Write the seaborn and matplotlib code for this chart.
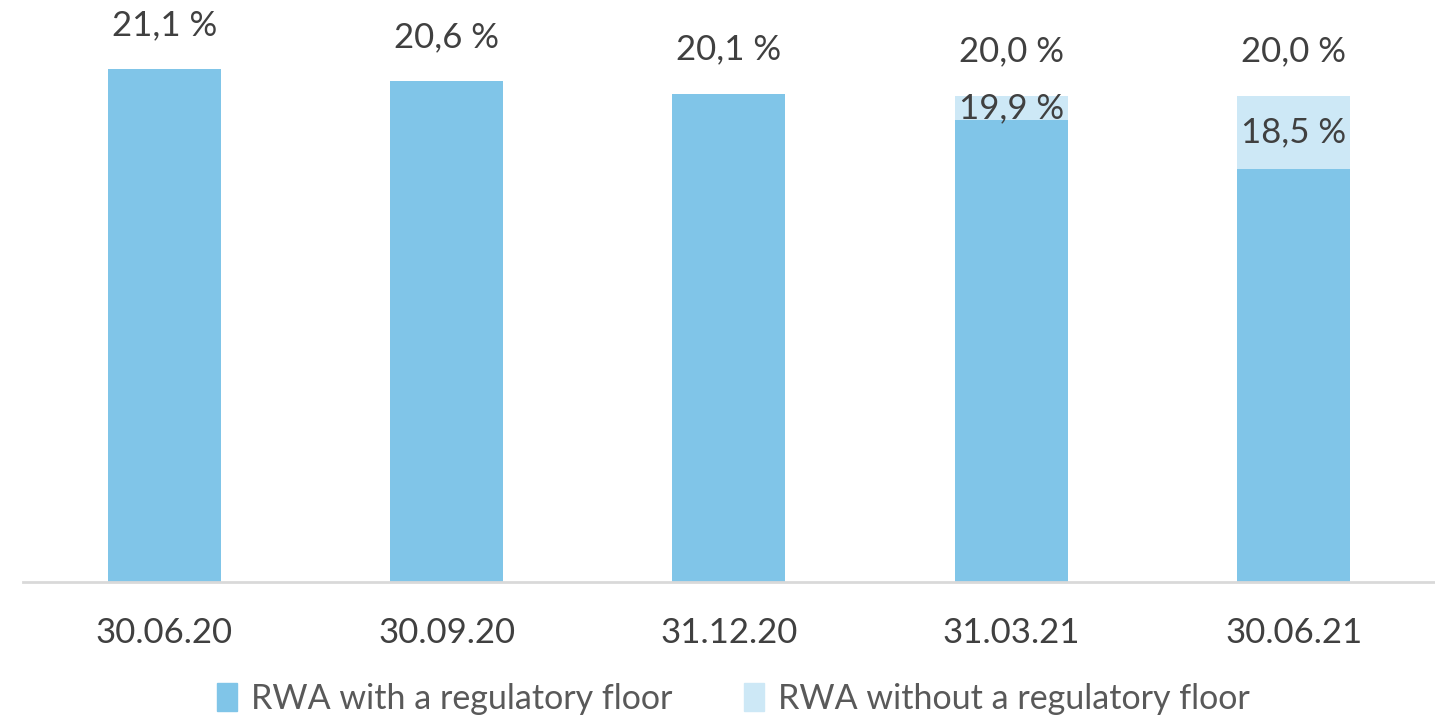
import seaborn as sns
import matplotlib.pyplot as plt
import pandas as pd
from matplotlib.patches import Patch

# Dados
datas = ['30.06.20', '30.09.20', '31.12.20', '31.03.21', '30.06.21']
com_floor = [21.1, 20.6, 20.1, 19.0, 17.0]
sem_floor = [0.0, 0.0, 0.0, 20.0, 20.0]
rotulos_topo = ['21,1 %', '20,6 %', '20,1 %', '20,0 %', '20,0 %']
rotulos_dentro = ['', '', '', '19,9 %', '18,5 %']

cor_escura = '#80C5E8'
cor_clara = '#CDE8F6'
cor_texto = '#404040'

df = pd.DataFrame({'data': datas, 'com': com_floor, 'sem': sem_floor})

sns.set_style('white')
plt.rcParams['font.family'] = ['Lato', 'DejaVu Sans']

fig = plt.figure(figsize=(14.35, 7.16), dpi=100)
ax = fig.add_axes([0.016, 0.187, 0.984, 0.813])

# Barra clara atrás, escura na frente
sns.barplot(data=df, x='data', y='sem', color=cor_clara, width=0.4,
            saturation=1, linewidth=0, ax=ax)
sns.barplot(data=df, x='data', y='com', color=cor_escura, width=0.4,
            saturation=1, linewidth=0, ax=ax)

ax.set_ylim(0, 23.95)
ax.set_xlim(-0.5, 4.5)
ax.set(xlabel='', ylabel='', yticks=[])

for s in ['top', 'right', 'left']:
    ax.spines[s].set_visible(False)
ax.spines['bottom'].set_color('#D9D9D9')
ax.spines['bottom'].set_linewidth(2)

ax.tick_params(axis='x', length=0, pad=25, labelsize=25, labelcolor=cor_texto)

# Rótulos de valor
for i in range(len(datas)):
    topo = max(com_floor[i], sem_floor[i])
    ax.annotate(rotulos_topo[i], (i, topo), xytext=(0, 32), textcoords='offset points',
                ha='center', va='center', fontsize=25, color=cor_texto)
    if rotulos_dentro[i]:
        ax.text(i, (com_floor[i] + sem_floor[i]) / 2, rotulos_dentro[i],
                ha='center', va='center', fontsize=25, color=cor_texto)

handles = [Patch(color=cor_escura, label='RWA with a regulatory floor'),
           Patch(color=cor_clara, label='RWA without a regulatory floor')]
fig.legend(handles=handles, loc='center', bbox_to_anchor=(0.511, 0.024), ncol=2,
           frameon=False, fontsize=24.5, labelcolor='#595959',
           handlelength=0.6, handleheight=0.9, handletextpad=0.4, columnspacing=2.1)

plt.savefig('out.png', dpi=100)
